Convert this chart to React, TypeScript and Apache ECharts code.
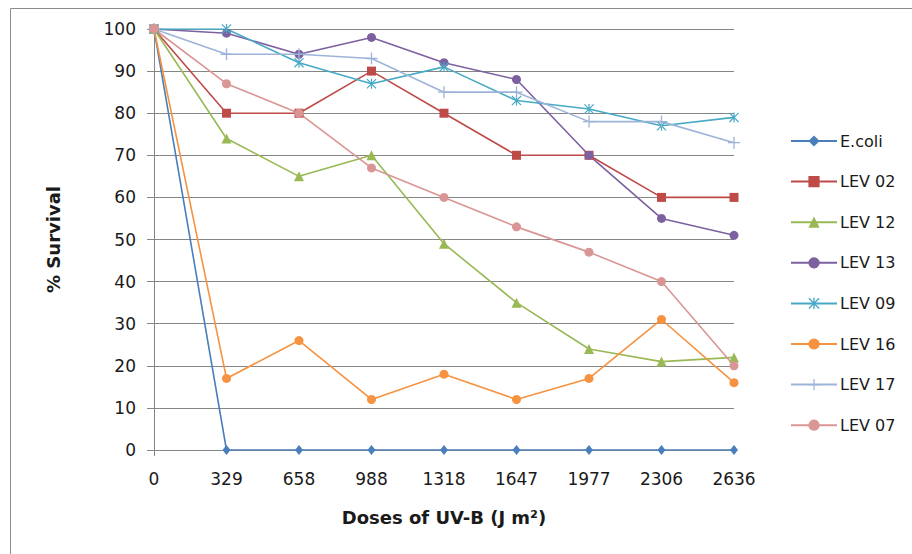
import React, { useEffect, useRef } from "react";
import * as echarts from "echarts";

const doses = ["0", "329", "658", "988", "1318", "1647", "1977", "2306", "2636"];
const yTicks = { min: 0, max: 100, interval: 10 };

const ecoli = [100, 0, 0, 0, 0, 0, 0, 0, 0];
const lev02 = [100, 80, 80, 90, 80, 70, 70, 60, 60];
const lev12 = [100, 74, 65, 70, 49, 35, 24, 21, 22];
const lev13 = [100, 99, 94, 98, 92, 88, 70, 55, 51];
const lev09 = [100, 100, 92, 87, 91, 83, 81, 77, 79];
const lev16 = [100, 17, 26, 12, 18, 12, 17, 31, 16];
const lev17 = [100, 94, 94, 93, 85, 85, 78, 78, 73];
const lev07 = [100, 87, 80, 67, 60, 53, 47, 40, 20];

const ASTERISK =
  "path://M4.4,0L5.6,0L5.6,10L4.4,10Z M0,0.85L0.85,0L10,9.15L9.15,10Z M9.15,0L10,0.85L0.85,10L0,9.15Z";
const PLUS = "path://M4.45,0L5.55,0L5.55,10L4.45,10Z M0,4.45L10,4.45L10,5.55L0,5.55Z";

const seriesDefs = [
  { name: "E.coli", data: ecoli, color: "#4A7EBB", symbol: "diamond", size: [8, 10] },
  { name: "LEV 02", data: lev02, color: "#BE4B48", symbol: "rect", size: 9 },
  { name: "LEV 12", data: lev12, color: "#98B954", symbol: "triangle", size: 10 },
  { name: "LEV 13", data: lev13, color: "#7D60A0", symbol: "circle", size: 9 },
  { name: "LEV 09", data: lev09, color: "#46AAC5", symbol: ASTERISK, size: 10 },
  { name: "LEV 16", data: lev16, color: "#F69240", symbol: "circle", size: 9 },
  { name: "LEV 17", data: lev17, color: "#9DB4D8", symbol: PLUS, size: 12 },
  { name: "LEV 07", data: lev07, color: "#D99694", symbol: "circle", size: 9 },
];

const FONT = "DejaVu Sans";
const GRAY = "#868686";
const TEXT = "#1a1a1a";

export default function App() {
  const ref = useRef<HTMLDivElement>(null);

  useEffect(() => {
    if (!ref.current) return;
    const chart = echarts.init(ref.current, null, { renderer: "svg" });
    chart.setOption({
      animation: false,
      backgroundColor: "#ffffff",
      textStyle: { fontFamily: FONT },
      graphic: [
        {
          type: "rect",
          left: 8,
          top: 6,
          shape: { x: 0, y: 0, width: 1000, height: 1000 },
          style: { fill: "none", stroke: "#8c8c8c", lineWidth: 1 },
          silent: true,
          z: -10,
        },
      ],
      grid: { left: 154, right: 178, top: 29, bottom: 104, containLabel: false },
      legend: {
        orient: "vertical",
        left: 790,
        top: 133,
        padding: 0,
        itemWidth: 46,
        itemHeight: 14,
        itemGap: 24.6,
        textStyle: { fontFamily: FONT, fontSize: 16, color: TEXT, padding: [0, 0, 0, -2] },
        data: seriesDefs.map((s) => s.name),
      },
      xAxis: {
        type: "category",
        boundaryGap: false,
        data: doses,
        name: "Doses of UV-B (J m²)",
        nameLocation: "middle",
        nameGap: 58,
        nameTextStyle: { fontFamily: FONT, fontSize: 18, fontWeight: "bold", color: TEXT },
        axisLine: { show: true, lineStyle: { color: GRAY, width: 1 } },
        axisTick: {
          show: true,
          length: 6,
          interval: (index: number) => index === 0,
          lineStyle: { color: GRAY },
        },
        axisLabel: { fontFamily: FONT, fontSize: 17, color: TEXT, margin: 20 },
        splitLine: { show: false },
      },
      yAxis: {
        type: "value",
        min: yTicks.min,
        max: yTicks.max,
        interval: yTicks.interval,
        name: "% Survival",
        nameLocation: "middle",
        nameGap: 92,
        nameRotate: 90,
        nameTextStyle: { fontFamily: FONT, fontSize: 18, fontWeight: "bold", color: TEXT },
        axisLine: { show: true, lineStyle: { color: GRAY, width: 1 } },
        axisTick: { show: true, length: 7, lineStyle: { color: GRAY } },
        axisLabel: { fontFamily: FONT, fontSize: 17, color: TEXT, margin: 18 },
        splitLine: { show: true, lineStyle: { color: GRAY, width: 1 } },
      },
      series: seriesDefs.map((s) => ({
        name: s.name,
        type: "line",
        data: s.data,
        color: s.color,
        symbol: s.symbol,
        symbolSize: s.size,
        showAllSymbol: true,
        lineStyle: { color: s.color, width: 1.6 },
        itemStyle: { color: s.color },
        emphasis: { disabled: true },
      })),
    });
    return () => chart.dispose();
  }, []);

  return (
    <div
      ref={ref}
      style={{ position: "fixed", left: 0, top: 0, width: 912, height: 554 }}
    />
  );
}
